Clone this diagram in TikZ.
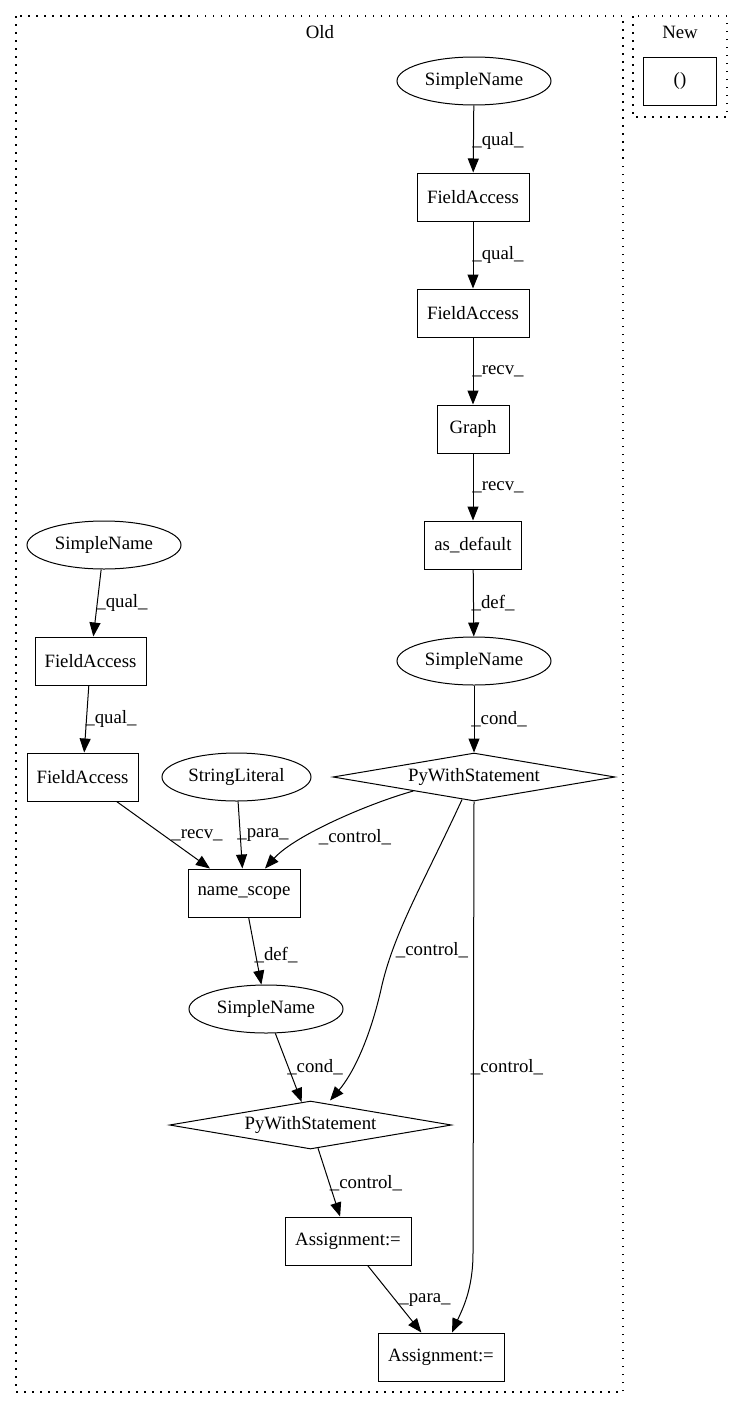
\documentclass[tikz,border=0pt]{standalone}
\usepackage{fontspec}
\setmainfont{Liberation Serif}
\usetikzlibrary{shapes.geometric,arrows.meta}
\begin{document}
\begin{tikzpicture}[x=1pt,y=-1pt,
  font=\fontsize{18.8}{22}\selectfont,
  box/.style={draw,line width=1pt,rectangle,inner sep=0pt,minimum height=48pt},
  oval/.style={draw,line width=1pt,ellipse,inner sep=0pt,minimum width=154pt,minimum height=48pt},
  dia/.style={draw,line width=1pt,diamond,inner sep=0pt,shape aspect=5.75,minimum width=282pt,minimum height=48pt},
  edge/.style={draw,line width=1pt,-{Triangle[length=14pt,width=11pt]}},
  lbl/.style={inner sep=0pt},
  cluster/.style={draw,line width=1.1pt,dash pattern=on 1.5pt off 6.5pt}]
\useasboundingbox (0,0) rectangle (743,1408);
% clusters
\draw[cluster] (16,16) rectangle (623,1392);
\draw[cluster] (633,16) rectangle (727,117);
\node[lbl] (oldlbl) at (320,32) {Old};
\node[lbl] (newlbl) at (680,32) {New};
% New
\node[box,minimum width=73pt] (paren) at (680,81) {()};
% right column
\node[oval] (sn1) at (474,81) {SimpleName};
\node[box,minimum width=112pt] (fa1) at (473,197) {FieldAccess};
\node[box,minimum width=112pt] (fa2) at (473,313) {FieldAccess};
\node[box,minimum width=72pt] (graph) at (473,429) {Graph};
\node[box,minimum width=97pt] (asdef) at (473,545) {as\_default};
\node[oval] (sn2) at (474,661) {SimpleName};
\node[dia] (pw1) at (474,777) {PyWithStatement};
% left column
\node[oval] (sn3) at (104,545) {SimpleName};
\node[box,minimum width=111pt] (fa3) at (90.5,661) {FieldAccess};
\node[box,minimum width=111pt] (fa4) at (82.5,777) {FieldAccess};
\node[oval,minimum width=149pt] (sl) at (236.5,777) {StringLiteral};
\node[box,minimum width=112pt] (ns) at (244,893) {name\_scope};
\node[oval] (sn4) at (266,1009) {SimpleName};
\node[dia] (pw2) at (310.5,1125) {PyWithStatement};
\node[box,minimum width=126pt] (as1) at (348,1241) {Assignment:=};
\node[box,minimum width=126pt] (as2) at (441,1357) {Assignment:=};
% edges
\draw[edge] (sn1) -- (fa1);
\draw[edge] (fa1) -- (fa2);
\draw[edge] (fa2) -- (graph);
\draw[edge] (graph) -- (asdef);
\draw[edge] (asdef) -- (sn2);
\draw[edge] (sn2) -- (pw1);
\draw[edge] (sn3) -- (fa3);
\draw[edge] (fa3) -- (fa4);
\draw[edge] (fa4) -- (ns);
\draw[edge] (sl) -- (ns);
\draw[edge] (ns) -- (sn4);
\draw[edge] (sn4) -- (pw2);
\draw[edge] (pw2) -- (as1);
\draw[edge] (as1) -- (as2);
\draw[edge] (pw1.-167) .. controls (370,803) and (295,835) .. (ns.north east -| 265,0);
\draw[edge] (pw1.-118) .. controls (425,880) and (395,930) .. (382,985) .. controls (370,1040) and (352,1075) .. (pw2.north -| 330,0);
\draw[edge] (pw1.south) -- (473,1253) .. controls (473,1290) and (462,1310) .. (as2.north -| 452,0);
% edge labels
\node[lbl] (l1) at (498,141) {\_qual\_};
\node[lbl] (l2) at (498,255) {\_qual\_};
\node[lbl] (l3) at (498,371) {\_recv\_};
\node[lbl] (l4) at (498,487) {\_recv\_};
\node[lbl] (l5) at (493,603) {\_def\_};
\node[lbl] (l6) at (499,719) {\_cond\_};
\node[lbl] (l7) at (122,603) {\_qual\_};
\node[lbl] (l8) at (111,719) {\_qual\_};
\node[lbl] (l9) at (197,835) {\_recv\_};
\node[lbl] (l10) at (263,835) {\_para\_};
\node[lbl] (l11) at (355,837) {\_control\_};
\node[lbl] (l12) at (276,955) {\_def\_};
\node[lbl] (l13) at (432,950) {\_control\_};
\node[lbl] (l14) at (507,1067) {\_control\_};
\node[lbl] (l15) at (315,1067) {\_cond\_};
\node[lbl] (l16) at (366,1183) {\_control\_};
\node[lbl] (l17) at (425,1300) {\_para\_};
\end{tikzpicture}
\end{document}
